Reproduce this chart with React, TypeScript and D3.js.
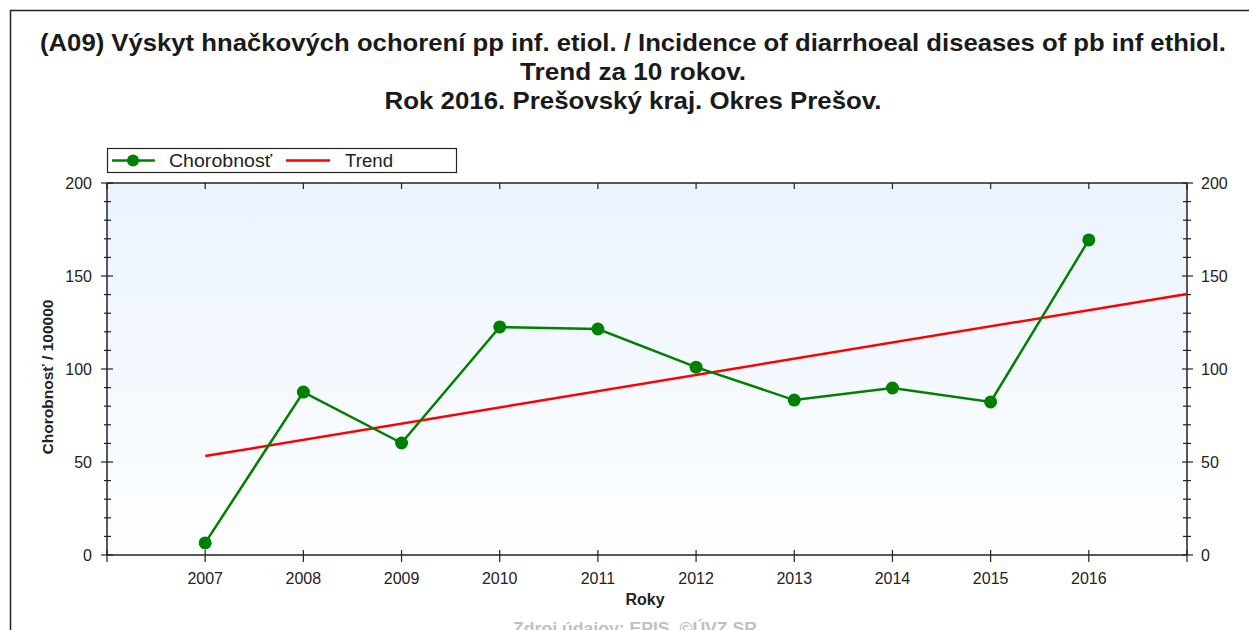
import React from "react";
import * as d3 from "d3";

const years = [2007, 2008, 2009, 2010, 2011, 2012, 2013, 2014, 2015, 2016];
const morbidity = [6.5, 87.6, 60.2, 122.6, 121.5, 101.0, 83.3, 89.8, 82.3, 169.4];
const yMajorTicks = [0, 50, 100, 150, 200];
const titleLines = [
  "(A09) Výskyt hnačkových ochorení pp inf. etiol. / Incidence of diarrhoeal diseases of pb inf ethiol.",
  "Trend za 10 rokov.",
  "Rok 2016. Prešovský kraj. Okres Prešov.",
];
const legendLabels = ["Chorobnosť", "Trend"];
const yAxisTitle = "Chorobnosť / 100000";
const xAxisTitle = "Roky";
const footer = "Zdroj údajov: EPIS, ©ÚVZ SR";

const W = 1249;
const H = 630;
const left = 107, right = 1187, top = 183, bottom = 555;
const font = "'Liberation Sans', Arial, sans-serif";
const titleWidths = [1186, 226, 497];

export default function App() {
  const x = d3.scaleLinear().domain([2006, 2017]).range([left, right]);
  const y = d3.scaleLinear().domain([0, 200]).range([bottom, top]);

  // linear regression for trend
  const mx = d3.mean(years)!;
  const my = d3.mean(morbidity)!;
  let sxy = 0, sxx = 0;
  years.forEach((yr, i) => {
    sxy += (yr - mx) * (morbidity[i] - my);
    sxx += (yr - mx) * (yr - mx);
  });
  const slope = sxy / sxx;
  const intercept = my - slope * mx;
  const trendX = [years[0], 2017];
  const trendPts: [number, number][] = trendX.map((t) => [x(t), y(intercept + slope * t)]);

  const line = d3.line<number>().x((_, i) => x(years[i])).y((d) => y(d));
  const minorTicks = d3.range(0, 201, 10).filter((v) => v % 50 !== 0);
  const xTicks = d3.range(2006, 2018);

  return (
    <svg width={W} height={H} style={{ display: "block", position: "absolute", left: 0, top: 0 }} fontFamily={font}>
      <defs>
        <linearGradient id="bg" x1="0" y1="0" x2="0" y2="1">
          <stop offset="0" stopColor="#ebf3fd" />
          <stop offset="1" stopColor="#fdfeff" />
        </linearGradient>
      </defs>
      <rect x={0} y={0} width={W} height={H} fill="#ffffff" />
      <path d={`M10.5,${H} V10.5 H${W}`} fill="none" stroke="#222" strokeWidth={1.5} />
      {titleLines.map((t, i) => (
        <text key={i} x={633} y={51 + i * 29} textAnchor="middle" fontSize={24} fontWeight="bold" fill="#1a1a1a"
          textLength={titleWidths[i]} lengthAdjust="spacingAndGlyphs">
          {t}
        </text>
      ))}
      {/* plot area */}
      <rect x={left} y={top} width={right - left} height={bottom - top} fill="url(#bg)" />
      {/* axes lines */}
      <line x1={left} x2={right} y1={top} y2={top} stroke="#222" strokeWidth={1.5} />
      <line x1={left} x2={right} y1={bottom} y2={bottom} stroke="#222" strokeWidth={1.5} />
      <line x1={left} x2={left} y1={top} y2={bottom} stroke="#222" strokeWidth={1.5} />
      <line x1={right} x2={right} y1={top} y2={bottom} stroke="#222" strokeWidth={1.5} />
      {/* y ticks */}
      {yMajorTicks.map((v) => (
        <g key={"M" + v}>
          <line x1={left - 6} x2={left + 6} y1={y(v)} y2={y(v)} stroke="#222" strokeWidth={1.2} />
          <line x1={right - 5} x2={right + 6} y1={y(v)} y2={y(v)} stroke="#222" strokeWidth={1.2} />
          <text x={92} y={y(v) + 5.5} textAnchor="end" fontSize={16} fill="#222">{v}</text>
          <text x={1201} y={y(v) + 5.5} textAnchor="start" fontSize={16} fill="#222">{v}</text>
        </g>
      ))}
      {minorTicks.map((v) => (
        <g key={"m" + v}>
          <line x1={left - 3} x2={left + 4} y1={y(v)} y2={y(v)} stroke="#222" strokeWidth={1.2} />
          <line x1={right - 4} x2={right + 4} y1={y(v)} y2={y(v)} stroke="#222" strokeWidth={1.2} />
        </g>
      ))}
      {/* x ticks */}
      {xTicks.map((t) => (
        <g key={"x" + t}>
          <line x1={x(t)} x2={x(t)} y1={bottom - 5} y2={bottom + 7} stroke="#222" strokeWidth={1.2} />
          <line x1={x(t)} x2={x(t)} y1={top} y2={top + 6} stroke="#222" strokeWidth={1.2} />
        </g>
      ))}
      {years.map((t) => (
        <text key={"xl" + t} x={x(t)} y={584} textAnchor="middle" fontSize={16} fill="#222">{t}</text>
      ))}
      {/* trend */}
      <line x1={trendPts[0][0]} y1={trendPts[0][1]} x2={trendPts[1][0]} y2={trendPts[1][1]} stroke="#ff0000" strokeWidth={2.5} />
      {/* series */}
      <path d={line(morbidity)!} fill="none" stroke="#008000" strokeWidth={2.5} />
      {morbidity.map((v, i) => (
        <circle key={i} cx={x(years[i])} cy={y(v)} r={6.5} fill="#008000" />
      ))}
      {/* axis titles */}
      <text transform={`translate(53,377) rotate(-90)`} textAnchor="middle" fontSize={15} fontWeight="bold" fill="#222"
        textLength={155} lengthAdjust="spacingAndGlyphs">
        {yAxisTitle}
      </text>
      <text x={645} y={605} textAnchor="middle" fontSize={16} fontWeight="bold" fill="#222">{xAxisTitle}</text>
      <text x={635} y={634} textAnchor="middle" fontSize={16} fontWeight="bold" fill="#c0c0c0"
        textLength={244} lengthAdjust="spacingAndGlyphs">{footer}</text>
      {/* legend */}
      <rect x={107.5} y={148.5} width={349} height={24} fill="#fff" stroke="#222" strokeWidth={1.2} />
      <line x1={112} x2={155} y1={160.5} y2={160.5} stroke="#008000" strokeWidth={2.5} />
      <circle cx={133} cy={160.5} r={6} fill="#008000" />
      <text x={169} y={167} fontSize={18} fill="#222" textLength={103} lengthAdjust="spacingAndGlyphs">{legendLabels[0]}</text>
      <line x1={286} x2={330} y1={160.5} y2={160.5} stroke="#ff0000" strokeWidth={2.5} />
      <text x={345} y={167} fontSize={18} fill="#222" textLength={48} lengthAdjust="spacingAndGlyphs">{legendLabels[1]}</text>
    </svg>
  );
}
